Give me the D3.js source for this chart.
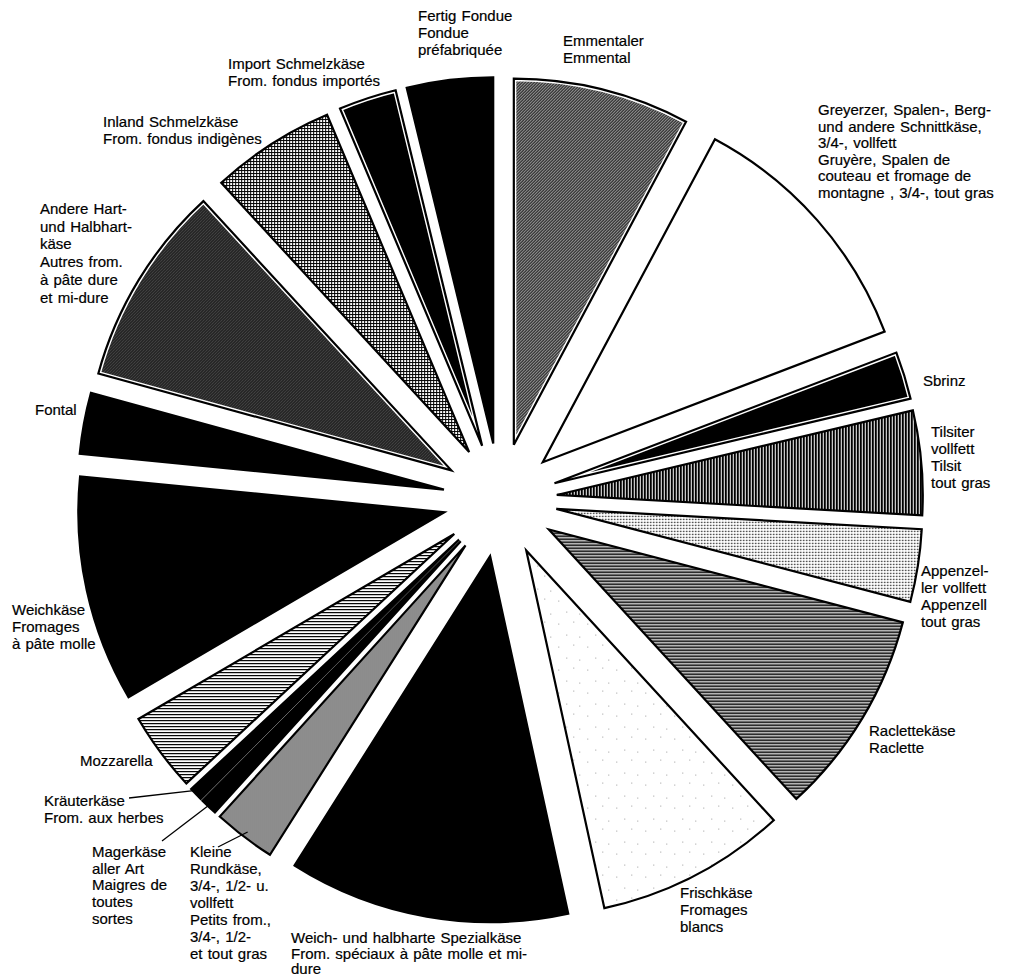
<!DOCTYPE html>
<html>
<head>
<meta charset="utf-8">
<script src="https://cdn.jsdelivr.net/npm/d3@7"></script>
<style>
	body { margin: 0; background: #fff; }
	svg text { font-family: "Liberation Sans", Arial, Helvetica, sans-serif; font-size: 15px; word-spacing: 1px; fill: #000; stroke: #000; stroke-width: 0.2px; }
</style>
</head>
<body>
<svg id="chart" width="1009" height="978"></svg>
<script>
// shares of the cheese groups (%), clockwise from 12 o'clock
const cheeses = ['emmentaler', 'greyerzer', 'sbrinz', 'tilsiter', 'appenzeller', 'raclette',
	'frischkaese', 'spezial', 'kleine', 'mager', 'kraeuter', 'mozzarella',
	'weichkaese', 'fontal', 'andere', 'inland', 'import', 'fondue'];
const shares = [7.8, 11.4, 2.1, 4.6, 3.2, 9.1, 8.4, 12.4, 2.75, 0.75, 0.6, 3.5, 10.0, 2.7, 8.9, 5.5, 2.55, 3.8];
const labelLines = [
	['Emmentaler', 'Emmental'],
	['Greyerzer, Spalen-, Berg-', 'und andere Schnittkäse,', '3/4-, vollfett', 'Gruyère, Spalen de', 'couteau et fromage de', 'montagne , 3/4-, tout gras'],
	['Sbrinz'],
	['Tilsiter', 'vollfett', 'Tilsit', 'tout gras'],
	['Appenzel-', 'ler vollfett', 'Appenzell', 'tout gras'],
	['Raclettekäse', 'Raclette'],
	['Frischkäse', 'Fromages', 'blancs'],
	['Weich- und halbharte Spezialkäse', 'From. spéciaux à pâte molle et mi-', 'dure'],
	['Kleine', 'Rundkäse,', '3/4-, 1/2- u.', 'vollfett', 'Petits from.,', '3/4-, 1/2-', 'et tout gras'],
	['Magerkäse', 'aller Art', 'Maigres de', 'toutes', 'sortes'],
	['Kräuterkäse', 'From. aux herbes'],
	['Mozzarella'],
	['Weichkäse', 'Fromages', 'à pâte molle'],
	['Fontal'],
	['Andere Hart-', 'und Halbhart-', 'käse', 'Autres from.', 'à pâte dure', 'et mi-dure'],
	['Inland Schmelzkäse', 'From. fondus indigènes'],
	['Import Schmelzkäse', 'From. fondus importés'],
	['Fertig Fondue', 'Fondue', 'préfabriquée'],
];

// layout: label anchors [x, first baseline, line height]
const labelPos = {
	emmentaler: [563, 46, 16.5], greyerzer: [818, 115, 16.6], sbrinz: [923, 386, 17],
	tilsiter: [931, 437, 17], appenzeller: [921, 576, 17], raclette: [869, 736, 17],
	frischkaese: [680, 898, 17], spezial: [291, 943, 15.5], kleine: [190, 857, 17],
	mager: [92, 857, 16.7], kraeuter: [44, 806, 16.5], mozzarella: [80, 766, 17],
	weichkaese: [12, 615, 17], fontal: [35, 415, 17], andere: [40, 214, 17.7],
	inland: [103, 127, 17], import: [228, 69, 17], fondue: [418, 21, 17],
};
// leader line starts for the thin slices
const leaders = { kraeuter: [129, 798], mager: [162, 841], kleine: [218, 847] };

const fills = {
	emmentaler: 'url(#diagMid)', greyerzer: '#fff', sbrinz: '#000', tilsiter: 'url(#vert)',
	appenzeller: 'url(#dots)', raclette: 'url(#horiz)', frischkaese: 'url(#specks)', spezial: '#000',
	kleine: 'url(#diagSteep)', mager: '#000', kraeuter: '#000', mozzarella: 'url(#horizLight)',
	weichkaese: '#000', fontal: '#000', andere: 'url(#diagDark)', inland: 'url(#cross)',
	import: '#000', fondue: '#000',
};
const innerLine = new Set(['emmentaler', 'andere', 'sbrinz', 'import']);

const svg = d3.select('#chart');
const cx = 500, cy = 500, R = 366, explode = 57;

const defs = svg.append('defs');
function linePattern (id, size, draw) {
	const p = defs.append('pattern')
		.attr('id', id)
		.attr('patternUnits', 'userSpaceOnUse')
		.attr('width', size[0])
		.attr('height', size[1]);
	p.append('rect').attr('width', size[0]).attr('height', size[1]).attr('fill', '#fff');
	draw(p);
}
linePattern('diagMid', [3, 3], p => p.append('path')
	.attr('d', 'M-1,1 l2,-2 M0,3 l3,-3 M2,4 l2,-2')
	.attr('stroke', '#000').attr('stroke-width', 1.3));
linePattern('diagDark', [3, 3], p => p.append('path')
	.attr('d', 'M-1,1 l2,-2 M0,3 l3,-3 M2,4 l2,-2')
	.attr('stroke', '#000').attr('stroke-width', 1.7));
linePattern('diagSteep', [4, 3], p => p.append('path')
	.attr('d', 'M0,3 l2,-6 M2,3 l2,-6 M4,3 l2,-6 M-2,3 l2,-6')
	.attr('stroke', '#000').attr('stroke-width', 0.9));
linePattern('vert', [3, 3], p => p.append('rect').attr('width', 2).attr('height', 3).attr('fill', '#000'));
linePattern('horiz', [3, 3], p => p.append('rect').attr('width', 3).attr('height', 1.7).attr('fill', '#000'));
linePattern('horizLight', [3, 3], p => p.append('rect').attr('width', 3).attr('height', 1.2).attr('fill', '#000'));
linePattern('cross', [3, 3], p => {
	p.append('rect').attr('width', 3).attr('height', 1).attr('fill', '#000');
	p.append('rect').attr('width', 1).attr('height', 3).attr('fill', '#000');
});
linePattern('dots', [3, 3], p => p.append('circle').attr('cx', 1.5).attr('cy', 1.5).attr('r', 0.75).attr('fill', '#000'));
linePattern('specks', [29, 23], p => {
	[[3, 4], [18, 2], [11, 15], [24, 17]].forEach(d => {
		p.append('rect').attr('x', d[0]).attr('y', d[1]).attr('width', 1).attr('height', 1).attr('fill', '#999');
	});
});

const pie = d3.pie().sort(null).value(d => d.value);
const arcs = pie(cheeses.map((key, i) => ({ key, value: shares[i], lines: labelLines[i] })));
const arc = d3.arc().innerRadius(0).outerRadius(R);
const mid = d => (d.startAngle + d.endAngle) / 2;
const shift = d => [cx + explode * Math.sin(mid(d)), cy - explode * Math.cos(mid(d))];

const slices = svg.append('g').attr('class', 'slices')
	.selectAll('g')
	.data(arcs)
	.join('g')
	.attr('transform', d => `translate(${shift(d)})`);

slices.append('path')
	.attr('d', arc)
	.attr('fill', d => fills[d.data.key])
	.attr('stroke', d => innerLine.has(d.data.key) ? '#fff' : 'none')
	.attr('stroke-width', 5)
	.attr('stroke-linejoin', 'miter');
slices.append('path')
	.attr('d', arc)
	.attr('fill', 'none')
	.attr('stroke', '#000')
	.attr('stroke-width', 2.2)
	.attr('stroke-linejoin', 'miter');

// leader lines to the thin slices
svg.append('g').attr('class', 'leaders')
	.selectAll('line')
	.data(arcs.filter(d => leaders[d.data.key]))
	.join('line')
	.attr('x1', d => leaders[d.data.key][0])
	.attr('y1', d => leaders[d.data.key][1])
	.attr('x2', d => shift(d)[0] + (R - 6) * Math.sin(mid(d)))
	.attr('y2', d => shift(d)[1] - (R - 6) * Math.cos(mid(d)))
	.attr('stroke', '#000')
	.attr('stroke-width', 1.3);

const labels = svg.append('g').attr('class', 'labels')
	.selectAll('text')
	.data(arcs)
	.join('text')
	.attr('x', d => labelPos[d.data.key][0])
	.attr('y', d => labelPos[d.data.key][1]);
labels.selectAll('tspan')
	.data(d => d.data.lines.map((t, i) => ({ t, i, pos: labelPos[d.data.key] })))
	.join('tspan')
	.attr('x', d => d.pos[0])
	.attr('y', d => d.pos[1] + d.i * d.pos[2])
	.text(d => d.t);
</script>
</body>
</html>
